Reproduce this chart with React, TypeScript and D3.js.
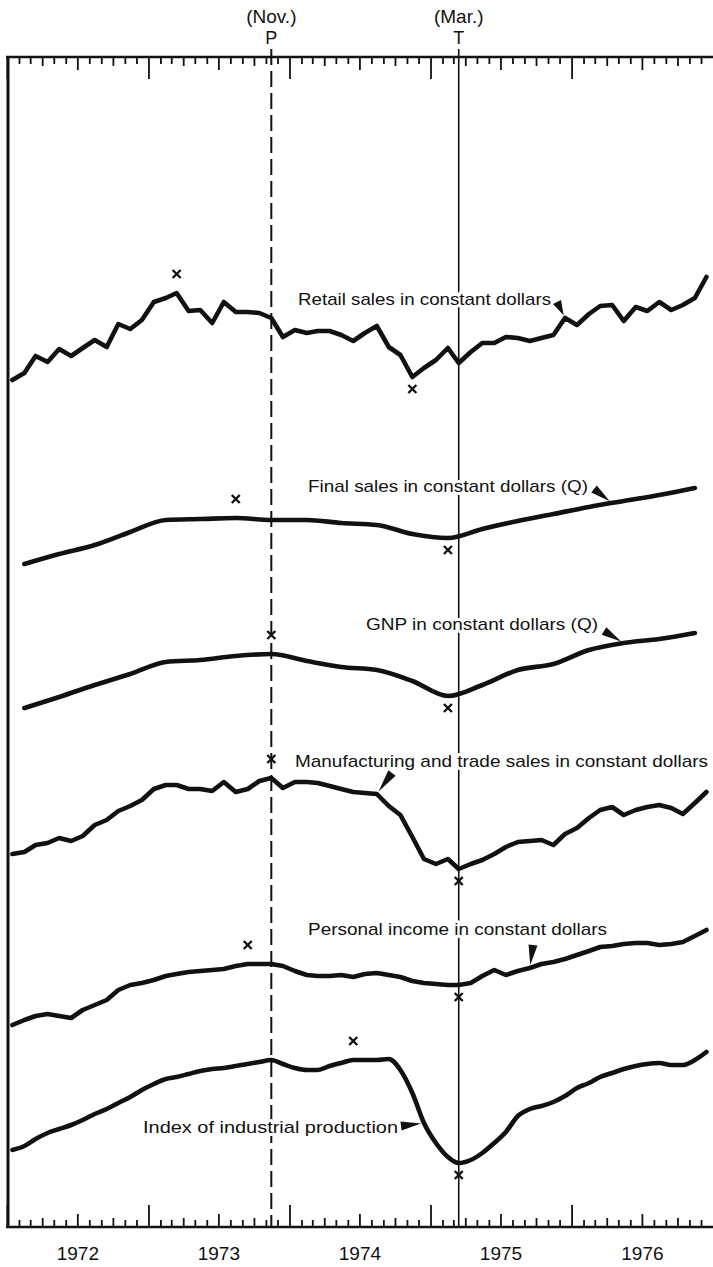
import { useEffect, useRef } from 'react';
import * as d3 from 'd3';

const W = 713;
const H = 1267;

// relative levels, Jan 1972 .. Dec 1976 (monthly) or 1972Q1 .. 1976Q4 (quarterly)
const retailSales = [
  20, 27, 44, 38, 51, 44, 52, 60, 53, 76, 71, 80,
  98, 102, 107, 89, 90, 77, 98, 88, 88, 87, 82, 63,
  70, 67, 69, 69, 65, 59, 67, 74, 53, 45, 23, 32,
  40, 52, 37, 48, 57, 57, 63, 62, 59, 62, 65, 82,
  75, 86, 94, 95, 79, 93, 89, 98, 90, 95, 102, 123,
];
const finalSales = [6, 16, 25, 38, 50, 51, 52, 50, 50, 47, 45, 36, 32, 41, 49, 56, 63, 69, 75, 82];
const gnp = [7, 18, 30, 41, 53, 55, 59, 61, 54, 48, 45, 34, 19, 30, 45, 51, 65, 72, 76, 82];
const mfgTradeSales = [
  21, 23, 30, 32, 37, 34, 39, 50, 55, 64, 69, 75,
  86, 90, 90, 86, 86, 84, 93, 83, 86, 94, 97, 87,
  93, 93, 92, 89, 86, 83, 82, 81, 69, 60, 38, 16,
  11, 16, 6, 11, 15, 21, 28, 33, 34, 35, 30, 41,
  47, 57, 65, 68, 60, 65, 68, 70, 67, 61, 72, 83,
];
const personalIncome = [
  5, 10, 14, 16, 14, 12, 20, 25, 30, 40, 45, 47,
  50, 54, 56, 58, 59, 60, 61, 64, 66, 66, 66, 64,
  59, 55, 54, 54, 55, 53, 56, 57, 55, 53, 49, 47,
  46, 45, 45, 47, 54, 60, 55, 59, 62, 66, 68, 71,
  75, 79, 83, 84, 86, 87, 87, 85, 86, 88, 94, 100,
];
const industrialProduction = [
  20, 24, 31, 37, 41, 45, 50, 56, 61, 67, 73, 80,
  86, 91, 93, 96, 99, 101, 102, 104, 106, 108, 110, 106,
  102, 100, 100, 104, 107, 110, 110, 110, 111, 100, 77, 47,
  27, 13, 7, 10, 17, 27, 38, 54, 61, 64, 68, 74,
  82, 87, 93, 97, 101, 104, 106, 107, 105, 105, 110, 118,
];

const seriesNames = [
  'Retail sales in constant dollars',
  'Final sales in constant dollars (Q)',
  'GNP in constant dollars (Q)',
  'Manufacturing and trade sales in constant dollars',
  'Personal income in constant dollars',
  'Index of industrial production',
];
// specific peak / trough dates marked with x
const peakDates = ['1973-03', '1973-08', '1973-11', '1973-11', '1973-09', '1974-06'];
const troughDates = ['1974-11', '1975-02', '1975-02', '1975-03', '1975-03', '1975-03'];
// pointer tip dates for the label arrows
const arrowDates = ['1975-12', '1976-04', '1976-05', '1974-08', '1975-09', '1974-12'];

const yearLabels = ['1972', '1973', '1974', '1975', '1976'];
const turnPeak = { date: '1973-11', month: '(Nov.)', letter: 'P' };
const turnTrough = { date: '1975-03', month: '(Mar.)', letter: 'T' };

const FONT = "'Liberation Sans Narrow', 'Arial Narrow', 'Liberation Sans', sans-serif";

const mid = (s: string) => {
  const [y, m] = s.split('-').map(Number);
  return new Date(y, m - 1, 15);
};
const monthDates = d3.range(60).map((i) => new Date(1972, i, 15));
const quarterDates = d3.range(20).map((q) => new Date(1972, q * 3 + 1, 15));

// layout: band base (pixel of level 0), label position, arrow base
const layout = [
  { values: retailSales, dates: monthDates, base: 400, curve: d3.curveLinear, lx: 298, lw: 253, ly: 305, ax: 557, ay: 302 },
  { values: finalSales, dates: quarterDates, base: 570, curve: d3.curveMonotoneX, lx: 308, lw: 280, ly: 492, ax: 594, ay: 489 },
  { values: gnp, dates: quarterDates, base: 715, curve: d3.curveMonotoneX, lx: 366, lw: 232, ly: 630, ax: 604, ay: 631 },
  { values: mfgTradeSales, dates: monthDates, base: 875, curve: d3.curveLinear, lx: 295, lw: 413, ly: 767, ax: 392, ay: 773 },
  { values: personalIncome, dates: monthDates, base: 1030, curve: d3.curveLinear, lx: 308, lw: 299, ly: 935, ax: 533, ay: 945 },
  { values: industrialProduction, dates: monthDates, base: 1170, curve: d3.curveMonotoneX, lx: 143, lw: 255, ly: 1133, ax: 401, ay: 1126 },
];

export default function App() {
  const svgRef = useRef<SVGSVGElement>(null);

  useEffect(() => {
    if (!svgRef.current) return;
    const svg = d3.select(svgRef.current);
    svg.selectAll('*').remove();

    const top = 57;
    const bottom = 1227;
    const x = d3.scaleTime().domain([new Date(1972, 0, 1), new Date(1977, 0, 1)]).range([7, 713]);
    const months = d3.timeMonth.range(new Date(1972, 0, 1), new Date(1977, 0, 1));

    const tickLen = (d: Date) => (d.getMonth() === 0 ? 22 : d.getMonth() === 6 ? 13 : d.getMonth() % 3 === 0 ? 9 : 7);

    // month ticks, top (pointing down) and bottom (pointing up)
    [7, 9, 13, 22].forEach((len) => {
      const vals = months.filter((d) => tickLen(d) === len);
      const gt = svg.append('g').attr('transform', `translate(0,${top})`)
        .call(d3.axisBottom(x).tickValues(vals).tickSize(len).tickFormat(() => ''));
      const gb = svg.append('g').attr('transform', `translate(0,${bottom})`)
        .call(d3.axisTop(x).tickValues(vals).tickSize(len).tickFormat(() => ''));
      [gt, gb].forEach((g) => {
        g.select('.domain').remove();
        g.selectAll('line').attr('stroke', '#111').attr('stroke-width', 1.8);
      });
    });

    // year labels
    const ya = svg.append('g').attr('transform', `translate(0,${bottom})`)
      .call(d3.axisBottom(x)
        .tickValues(yearLabels.map((y) => new Date(+y, 6, 1)))
        .tickSize(0).tickPadding(20)
        .tickFormat((d) => d3.timeFormat('%Y')(d as Date)));
    ya.select('.domain').remove();
    ya.selectAll('text').attr('fill', '#111').style('font-size', '19px').style('font-family', FONT);

    // frame
    svg.append('line').attr('x1', 6).attr('x2', W).attr('y1', top).attr('y2', top).attr('stroke', '#111').attr('stroke-width', 2.5);
    svg.append('line').attr('x1', 6).attr('x2', W).attr('y1', bottom).attr('y2', bottom).attr('stroke', '#111').attr('stroke-width', 2.5);
    svg.append('line').attr('x1', 8).attr('x2', 8).attr('y1', top - 1).attr('y2', bottom + 1).attr('stroke', '#111').attr('stroke-width', 3);

    // turning point lines
    const px = x(mid(turnPeak.date));
    const tx = x(mid(turnTrough.date));
    svg.append('line').attr('x1', px).attr('x2', px).attr('y1', 49).attr('y2', bottom)
      .attr('stroke', '#111').attr('stroke-width', 2).attr('stroke-dasharray', '16,6');
    svg.append('line').attr('x1', tx).attr('x2', tx).attr('y1', 49).attr('y2', bottom)
      .attr('stroke', '#111').attr('stroke-width', 1.6);

    [[px, turnPeak], [tx, turnTrough]].forEach(([cx, t]: any) => {
      svg.append('text').attr('x', cx).attr('y', 23).attr('text-anchor', 'middle')
        .style('font-family', FONT).style('font-size', '19px').attr('fill', '#111').text(t.month);
      svg.append('text').attr('x', cx).attr('y', 44).attr('text-anchor', 'middle')
        .style('font-family', FONT).style('font-size', '18px').attr('fill', '#111').text(t.letter);
    });

    const dayIndex = (dates: Date[], d: Date) => {
      const t = d.getTime();
      const i = Math.max(0, Math.min(dates.length - 2, d3.bisectRight(dates.map((v) => v.getTime()), t) - 1));
      const f = (t - dates[i].getTime()) / (dates[i + 1].getTime() - dates[i].getTime());
      return { i, f };
    };

    layout.forEach((s, k) => {
      const y = d3.scaleLinear().domain([0, 100]).range([s.base, s.base - 100]);
      const line = d3.line<number>()
        .x((_, i) => x(s.dates[i]))
        .y((d) => y(d))
        .curve(s.curve);

      svg.append('path').datum(s.values)
        .attr('fill', 'none').attr('stroke', '#111').attr('stroke-width', 4.6)
        .attr('stroke-linejoin', 'round').attr('stroke-linecap', 'round')
        .attr('d', line);

      // peak and trough markers
      const valueAt = (ds: string) => {
        const d = mid(ds);
        const { i, f } = dayIndex(s.dates, d);
        return s.values[i] + (s.values[i + 1] - s.values[i]) * Math.min(1, Math.max(0, f));
      };
      const marks = [
        { d: peakDates[k], dy: -19 },
        { d: troughDates[k], dy: 12 },
      ];
      marks.forEach((m) => {
        const cx = x(mid(m.d));
        const cy = y(valueAt(m.d)) + m.dy;
        const r = 4;
        svg.append('path')
          .attr('d', `M${cx - r},${cy - r}L${cx + r},${cy + r}M${cx + r},${cy - r}L${cx - r},${cy + r}`)
          .attr('stroke', '#111').attr('stroke-width', 2.4).attr('fill', 'none');
      });

      // label
      svg.append('text').attr('x', s.lx).attr('y', s.ly)
        .attr('textLength', s.lw).attr('lengthAdjust', 'spacingAndGlyphs')
        .style('font-family', FONT).style('font-size', '17px')
        .attr('fill', '#111').attr('stroke', '#fff').attr('stroke-width', 6)
        .attr('stroke-linejoin', 'round').style('paint-order', 'stroke')
        .text(seriesNames[k]);

      // wedge pointer from label to line
      const tipX = x(mid(arrowDates[k]));
      const tipY = y(valueAt(arrowDates[k]));
      const dx = tipX - s.ax;
      const dy = tipY - s.ay;
      const len = Math.hypot(dx, dy);
      const ux = dx / len;
      const uy = dy / len;
      const ex = tipX - ux * 3;
      const ey = tipY - uy * 3;
      const hw = 4.5;
      svg.append('path')
        .attr('d', `M${s.ax - uy * hw},${s.ay + ux * hw}L${s.ax + uy * hw},${s.ay - ux * hw}L${ex},${ey}Z`)
        .attr('fill', '#111');
    });
  }, []);

  return (
    <svg
      ref={svgRef}
      width={W}
      height={H}
      style={{ position: 'absolute', left: 0, top: 0, background: '#fff' }}
    />
  );
}
